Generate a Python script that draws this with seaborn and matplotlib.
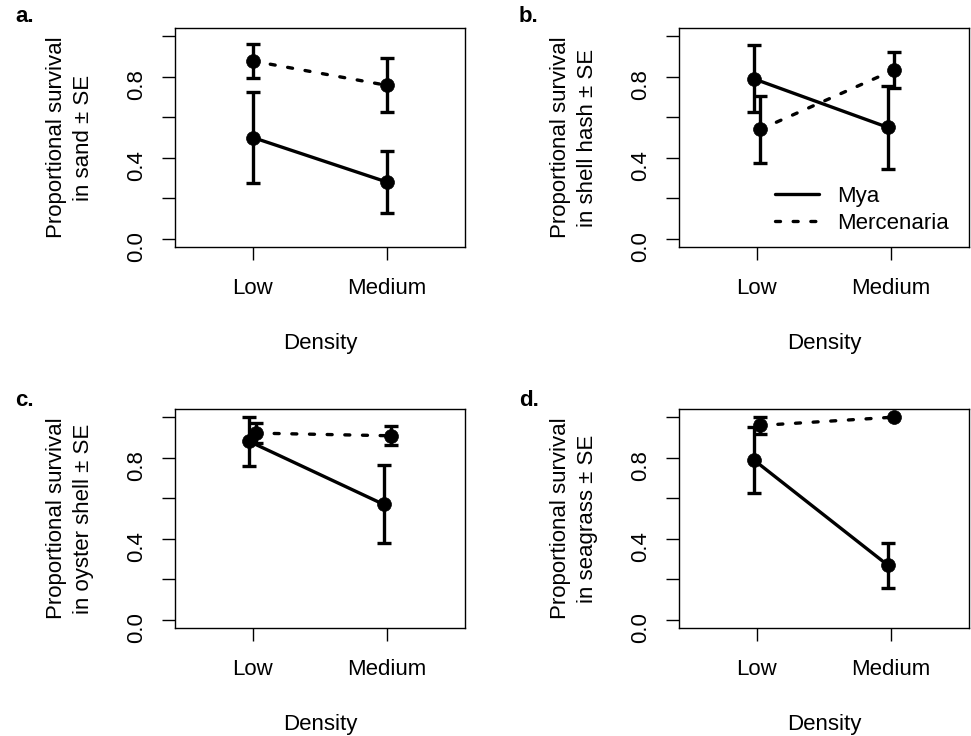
import numpy as np
import pandas as pd
import matplotlib
matplotlib.use("Agg")
import matplotlib.pyplot as plt
from matplotlib.lines import Line2D
import seaborn as sns

# ---- data ----
densities = ["Low", "Medium"]
panels = ["a.", "b.", "c.", "d."]
habitats = ["sand", "shell hash", "oyster shell", "seagrass"]

mya_mean = {"sand": [0.50, 0.28], "shell hash": [0.79, 0.55],
            "oyster shell": [0.88, 0.57], "seagrass": [0.79, 0.27]}
mya_se = {"sand": [0.224, 0.151], "shell hash": [0.166, 0.205],
          "oyster shell": [0.123, 0.192], "seagrass": [0.163, 0.111]}
merc_mean = {"sand": [0.877, 0.757], "shell hash": [0.54, 0.834],
             "oyster shell": [0.921, 0.908], "seagrass": [0.959, 1.0]}
merc_se = {"sand": [0.086, 0.133], "shell hash": [0.164, 0.09],
           "oyster shell": [0.051, 0.047], "seagrass": [0.041, 0.0]}
dodge_amt = {"sand": 0.0, "shell hash": 0.025, "oyster shell": 0.027, "seagrass": 0.025}

sns.set_theme(style="ticks")
plt.rcParams["font.family"] = ["Liberation Sans", "DejaVu Sans"]
plt.rcParams["text.color"] = "black"
plt.rcParams["axes.labelcolor"] = "black"
plt.rcParams["xtick.color"] = "black"
plt.rcParams["ytick.color"] = "black"
FS = 16

fig = plt.figure(figsize=(9.71, 7.36), dpi=100)
W, H = 971, 736
boxes = [(175, 28), (679, 28), (175, 409), (679, 409)]
bw, bh = 290, 219
label_pos = [(15, 17), (519, 17), (15, 400), (519, 400)]

lw = 2.4
dash = (0, (1.5, 3.8))

for i, hab in enumerate(habitats):
    x0, y0 = boxes[i]
    ax = fig.add_axes([x0 / W, 1 - (y0 + bh) / H, bw / W, bh / H])
    d = dodge_amt[hab]
    xs = np.arange(1, len(densities) + 1)
    for means, ses, off, ls in [(mya_mean[hab], mya_se[hab], -d, "-"),
                                (merc_mean[hab], merc_se[hab], d, dash)]:
        df = pd.DataFrame({"x": xs + off, "y": means, "se": ses})
        sns.lineplot(data=df, x="x", y="y", ax=ax, color="black", lw=lw,
                     linestyle=ls, dash_capstyle="round", solid_capstyle="round",
                     marker="o", markersize=10,
                     markeredgecolor="black", markeredgewidth=0.5, zorder=3)
        eb = df[df["se"] > 0]
        ax.errorbar(eb["x"], eb["y"], yerr=eb["se"], fmt="none", ecolor="black",
                    elinewidth=lw, capsize=5, capthick=lw, zorder=2)
    ax.set_xlim(0.42, 2.58)
    ax.set_ylim(-0.04, 1.04)
    ax.set_xticks(xs)
    ax.set_xticklabels(densities, fontsize=FS)
    ax.set_yticks([0, 0.2, 0.4, 0.6, 0.8, 1.0])
    ax.set_yticklabels(["0.0", "", "0.4", "", "0.8", ""], fontsize=FS)
    ax.tick_params(axis="y", labelrotation=90, length=9.5, width=1, pad=10.5)
    ax.tick_params(axis="x", length=9.5, width=1, pad=13)
    for s in ax.spines.values():
        s.set_linewidth(1.0)
        s.set_color("black")
    ax.set_xlabel("Density", fontsize=FS, labelpad=24)
    ax.set_ylabel(f"Proportional survival\nin {hab} ± SE", fontsize=FS,
                  labelpad=23, linespacing=1.4)
    lx, ly = label_pos[i]
    fig.text(lx / W, 1 - ly / H, panels[i], fontsize=FS, fontweight="bold",
             ha="left", va="center")
    if hab == "shell hash":
        handles = [Line2D([], [], color="black", lw=lw, linestyle="-"),
                   Line2D([], [], color="black", lw=lw, linestyle=dash,
                          dash_capstyle="round")]
        ax.legend(handles, ["Mya", "Mercenaria"], loc="lower right",
                  bbox_to_anchor=(1.0, -0.03), frameon=False, fontsize=FS,
                  handlelength=2.0, handletextpad=0.8, labelspacing=0.25)

fig.savefig("out.png", dpi=100)
